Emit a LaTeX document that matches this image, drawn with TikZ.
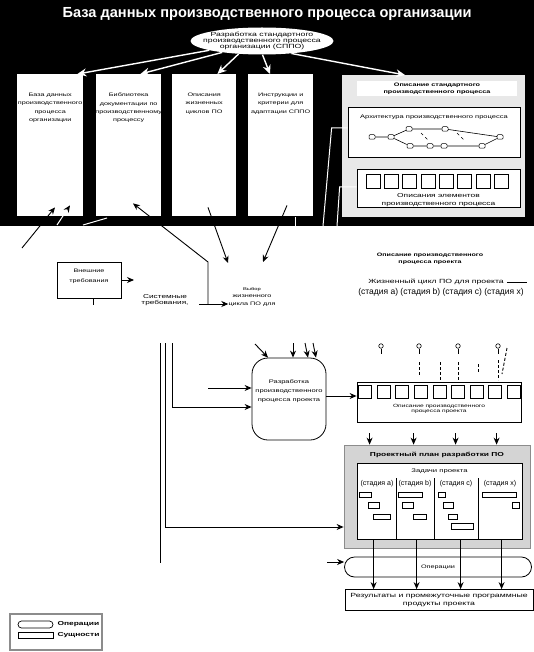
\documentclass[tikz,border=0pt]{standalone}
\usepackage{fontspec}
\setmainfont{Liberation Sans}
\newfontfamily\widesf[FakeStretch=1.45]{Liberation Sans}
\usepackage{tikz}
\usetikzlibrary{arrows.meta,positioning,shapes.geometric,shapes.misc,calc}
\definecolor{panelgray}{HTML}{D4D4D4}
\definecolor{softgray}{HTML}{E8E8E8}
\definecolor{framegray}{HTML}{8C8C8C}
\tikzset{
  flow/.style={-{Stealth[length=7pt,width=6pt]}, line width=0.9pt, draw=black},
  whiteflow/.style={-{Stealth[length=9pt,width=8pt]}, line width=1.4pt, draw=white},
  mixflow/.style={-{Stealth[length=7pt,width=6pt,color=black]}, line width=1pt, draw=white},
  wire/.style={line width=0.9pt, draw=black},
  whitewire/.style={line width=1pt, draw=white},
  dashwire/.style={dash pattern=on 3pt off 2pt, line width=0.9pt},
  dbbox/.style={fill=white, draw=none, inner sep=0pt, anchor=north west},
  box/.style={draw=black, line width=0.8pt, fill=white, inner sep=0pt},
  elembox/.style={draw=black, line width=0.6pt, fill=white, minimum size=13pt, inner sep=0pt},
  taskbar/.style={draw=black, line width=0.5pt, fill=white},
  archnode/.style={draw=black, line width=0.5pt, fill=white, rounded corners=1pt,
                   minimum width=6pt, minimum height=4.5pt, inner sep=0pt},
  lolly/.style={circle, draw=black, line width=0.6pt, fill=white, minimum size=4.5pt, inner sep=0pt},
  opbox/.style={rounded rectangle, draw=black, line width=0.8pt, fill=white, inner sep=0pt},
  lbl/.style={align=center, inner sep=0pt, font=\widesf\fontsize{5}{8.3}\selectfont}
}

\begin{document}
\begin{tikzpicture}[x=1pt, y=-1pt]
  \useasboundingbox (0,0) rectangle (534,652);

  % organisation process database
  \node[fill=black, inner sep=0pt, minimum width=534pt, minimum height=226pt, anchor=north west] (dbarea) at (0,0) {};
  \node[text=white, inner sep=0pt, font=\bfseries\fontsize{14.6}{14.6}\selectfont] (dbtitle) at (267,14) {База данных производственного процесса организации};
  \node[ellipse, fill=white, inner sep=0pt, minimum width=143pt, minimum height=27pt] (osspdev) at (262,41) {};
  \node[lbl, font=\widesf\fontsize{6}{6.2}\selectfont] (osspdevtxt) at (osspdev) {Разработка стандартного\\производственного процесса\\организации (СППО)};

  \node[dbbox, minimum width=66pt, minimum height=142pt] (dbdata) at (17,74) {};
  \node[dbbox, minimum width=65pt, minimum height=142pt] (doclib) at (96,74) {};
  \node[dbbox, minimum width=64pt, minimum height=142pt] (lcdesc) at (172,74) {};
  \node[dbbox, minimum width=65pt, minimum height=142pt] (tailor) at (248,74) {};
  \node[lbl, below=19pt of dbdata.north] (dbdatatxt) {База данных\\производственного\\процесса\\организации};
  \node[lbl, below=19pt of doclib.north] (doclibtxt) {Библиотека\\документации по\\производственному\\процессу};
  \node[lbl, below=19pt of lcdesc.north] (lcdesctxt) {Описания\\жизненных\\циклов ПО};
  \node[lbl, below=19pt of tailor.north] (tailortxt) {Инструкции и\\критерии для\\адаптации СППО};

  \node[dbbox, fill=softgray, minimum width=183pt, minimum height=142pt] (osspdesc) at (342,75) {};
  \node[fill=white, lbl, minimum width=160pt, minimum height=15pt, font=\widesf\bfseries\fontsize{5}{6.7}\selectfont] (osspdeschead) at (437,89) {Описание стандартного\\производственного процесса};
  \node[box, minimum width=172pt, minimum height=50pt] (archbox) at (434,132) {};
  \node[lbl, font=\widesf\fontsize{5.2}{6}\selectfont] (archtxt) at (434,117) {Архитектура производственного процесса};
  \foreach \an/\ax/\ay in {a1/372/137, a2/391/137, a3/409/129, a4/445/129, a5/500/137,
                           a6/410/146, a7/430/146, a8/444/146, a9/482/146}
    \node[archnode] (\an) at (\ax,\ay) {};
  \draw[line width=0.6pt] (a1) -- (a2) -- (a3) -- (a4) -- (a5) -- (a9) -- (a8) -- (a7) -- (a6) -- (a2);
  \draw[dashed, line width=0.5pt] (421,133) -- (428,140);
  \draw[dashed, line width=0.5pt] (457,133) -- (464,140);
  \node[box, minimum width=163pt, minimum height=38pt] (elemdesc) at (438.5,188) {};
  \foreach \i in {0,...,7}
    \node[elembox, minimum size=14pt] (elem\i) at (373+18.3*\i,181) {};
  \node[lbl, font=\widesf\fontsize{5.8}{8}\selectfont] (elemtxt) at (438.5,200) {Описания элементов\\производственного процесса};

  \draw[whiteflow] (osspdev.190) -- ([xshift=-6pt]dbdata.north east);
  \draw[whiteflow] (osspdev.196) -- ([xshift=-21pt]doclib.north east);
  \draw[whiteflow] (osspdev.209) -- ([xshift=-19pt]lcdesc.north east);
  \draw[whiteflow] (osspdev.272) -- ([xshift=22pt]tailor.north west);
  \draw[whiteflow] (osspdev.337) -- ([xshift=63pt]osspdesc.north west);

  % feedback into the database
  \coordinate (extfb) at (22,248);
  \coordinate (selfoot) at (208,304);
  \coordinate (selbend) at (208,262);
  \draw[flow] (extfb) -- ([shift={(38,-9)}]dbdata.south west);
  \draw[mixflow] (57,225) -- ([shift={(53,-11)}]dbdata.south west);
  \draw[whitewire] (83,225) -- (107,218);
  \draw[flow] (selfoot) -- (selbend) -- ([shift={(37,-13)}]doclib.south west);
  \draw[whitewire] (295,217) -- (295,226);
  \draw[whitewire] ([yshift=4pt]archbox.west) -- ++(-16,0) -- (323,226);
  \draw[whitewire] ([yshift=1pt]elemdesc.west) -- ++(-17,0) -- (337,226);

  % life cycle selection
  \node[box, minimum width=64pt, minimum height=36pt] (extreq) at (89,280) {};
  \node[lbl, font=\widesf\fontsize{5}{10}\selectfont] (extreqtxt) at (89,276) {Внешние\\требования};
  \coordinate (extreqout) at (134,280);
  \draw[flow] (extreq.east) -- (extreqout);
  \draw[wire] ([xshift=4pt]extreq.south) -- ++(0,7);
  \node[lbl, font=\widesf\fontsize{5.7}{6.7}\selectfont] (sysreq) at (165,300) {Системные\\требования,};
  \node[lbl, font=\widesf\fontsize{5}{7.5}\selectfont] (lcselect) at (252,297) {{\fontsize{4}{5}\selectfont Выбор}\\жизненного\\цикла ПО для};
  \coordinate (selin) at (199,304);
  \draw[flow] (selin) -- (selin -| lcselect.west);
  \coordinate (lcsel1) at (228,263);
  \coordinate (lcsel2) at (263,262);
  \draw[flow] ([shift={(36,-9)}]lcdesc.south west) -- (lcsel1);
  \draw[flow] ([shift={(39,-11)}]tailor.south west) -- (lcsel2);

  \node[lbl, font=\widesf\bfseries\fontsize{4.9}{7}\selectfont] (pdproj) at (430,259) {Описание производственного\\процесса проекта};
  \node[lbl, font=\widesf\fontsize{6}{6}\selectfont] (lcproj) at (436,282) {Жизненный цикл ПО для проекта};
  \coordinate (lcprojend) at (527,282);
  \draw[line width=0.8pt] ([xshift=3pt]lcproj.east) -- (lcprojend);
  \node[lbl, font=\fontsize{8.5}{9}\selectfont] (stagelist) at (441,292) {(стадия a) (стадия b) (стадия c) (стадия x)};

  % project process definition
  \node[box, rounded corners=16pt, minimum width=74pt, minimum height=82pt] (prjdev) at (289,399) {};
  \node[lbl, font=\widesf\fontsize{5.2}{9}\selectfont] (prjdevtxt) at (289,391) {Разработка\\производственного\\процесса проекта};
  \coordinate (busa) at (160,343);
  \coordinate (busb) at (165,343);
  \coordinate (busc) at (172,343);
  \coordinate (prjin) at (208,388);
  \coordinate (prjin2) at (172,407);
  \coordinate (planin) at (165,527);
  \draw[flow] (prjin) -- (prjin -| prjdev.west);
  \draw[flow] (busc) -- (prjin2) -- (prjin2 -| prjdev.west);
  \coordinate (prjfb) at (255,344);
  \draw[flow] (prjfb) -- ([xshift=-21pt]prjdev.north);
  \foreach \dx/\sx in {4/293, 19/305, 27/313}
    \draw[flow] (\sx,343) -- ([xshift=\dx pt]prjdev.north);

  \node[box, minimum width=164pt, minimum height=40pt] (pdesc) at (439,402) {};
  \foreach \i in {0,...,8}
    \node[elembox] (pelem\i) at (365+18.6*\i,391.5) {};
  \node[lbl, font=\widesf\fontsize{4.6}{5.6}\selectfont] (pdesctxt) at (439,409) {Описание производственного\\процесса проекта};
  \draw[flow] ([yshift=3pt]prjdev.east) -- ([yshift=6pt]pdesc.west);
  \foreach \px in {381,419,458,498} {
    \node[lolly] (lolly\px) at (\px,346) {};
    \draw[line width=0.6pt] (lolly\px.south) -- ++(0,5);
  }
  \foreach \px/\ya/\yb in {419/362/375, 440/362/382, 458/362/380, 478/364/374, 498/360/380}
    \draw[dashwire] (\px,\ya) -- (\px,\yb);
  \draw[dashwire] (507,348) -- (502,374);

  % project plan
  \node[draw=framegray, line width=0.8pt, fill=panelgray, inner sep=0pt, minimum width=186pt, minimum height=103pt] (plan) at (437,496.5) {};
  \node[lbl, font=\widesf\bfseries\fontsize{5.8}{6}\selectfont] (plantxt) at (437,455) {Проектный план разработки ПО};
  \node[box, minimum width=165pt, minimum height=76pt] (tasks) at (439.5,501) {};
  \node[lbl, font=\widesf\fontsize{5.3}{6}\selectfont] (taskstxt) at (439.5,471) {Задачи проекта};
  \foreach \sx/\st in {377/a, 415/b, 456/c, 500/x}
    \node[lbl, font=\fontsize{7}{7}\selectfont] (stage\st) at (\sx,484) {(стадия \st)};
  \foreach \dx in {396,434,478}
    \draw[line width=0.6pt] (\dx,478) -- (\dx,539);
  \foreach \xa/\ya/\xb/\yb in {359/492/371/497, 368/502/379/508, 373/514/390/519,
                               398/492/422/497, 402/502/413/508, 413/514/426/519,
                               438/492/445/497, 443/502/453/508, 448/514/457/519, 451/523/473/529,
                               482/492/516/497, 512/502/519/508}
    \draw[taskbar] (\xa,\ya) rectangle (\xb,\yb);
  \foreach \dx [count=\i] in {13,57,99,140} {
    \coordinate (pd\i) at ($(pdesc.south west)+(\dx,0)$);
    \draw[flow, shorten <=11pt] (pd\i) -- (pd\i |- plan.north);
  }
  \draw[wire] (busa) -- ++(0,220);
  \draw[flow] (busb) -- (planin) -- (planin -| plan.west);

  % operations and products
  \node[opbox, minimum width=187pt, minimum height=20pt, lbl, font=\widesf\fontsize{5}{6}\selectfont] (ops) at (438,567) {Операции};
  \node[box, minimum width=188pt, minimum height=21pt, lbl, font=\widesf\fontsize{6}{8.5}\selectfont] (results) at (439,600) {Результаты и промежуточные программные\\продукты проекта};
  \foreach \dx [count=\i] in {17,60,104,145} {
    \coordinate (td\i) at ($(tasks.south west)+(\dx,0)$);
    \draw[flow] (td\i) -- (td\i |- results.north);
  }
  \coordinate (opsin) at (327,562);
  \draw[flow] (opsin) -- (opsin -| ops.west);

  % legend
  \node[draw=framegray, line width=2.2pt, fill=white, inner sep=0pt, minimum width=92pt, minimum height=36pt, anchor=north west] (legend) at (9,613) {};
  \node[opbox, line width=0.7pt, minimum width=35pt, minimum height=7pt] (legops) at (35.5,624.5) {};
  \node[box, line width=0.6pt, minimum width=35pt, minimum height=6pt] (legent) at (35.5,635) {};
  \node[lbl, right=4pt of legops, font=\widesf\bfseries\fontsize{5.8}{6}\selectfont] (legopstxt) {Операции};
  \node[lbl, right=4pt of legent, font=\widesf\bfseries\fontsize{5.8}{6}\selectfont] (legenttxt) {Сущности};
\end{tikzpicture}
\end{document}
